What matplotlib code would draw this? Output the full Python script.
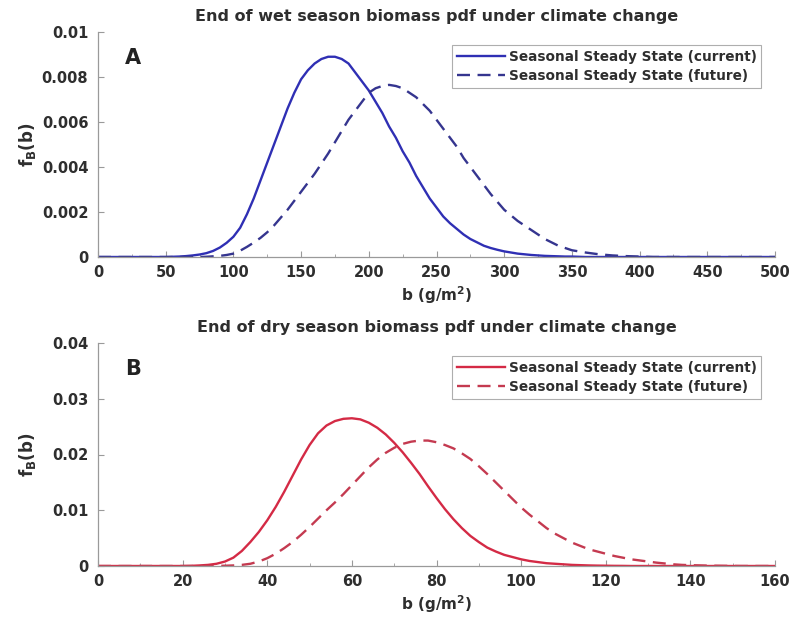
import matplotlib
matplotlib.use("Agg")
import matplotlib.pyplot as plt
from matplotlib.ticker import MultipleLocator

plt.rcParams['font.family'] = ['DejaVu Sans']
plt.rcParams['font.weight'] = 'bold'
plt.rcParams['mathtext.default'] = 'bf'

# ---- Panel A: end of wet season biomass pdf, b in g/m^2 ----
wet_b = [0, 10, 20, 30, 40, 50] + list(range(55, 355, 5)) + list(range(360, 510, 10))
wet_current = [
    0, 0, 0, 0, 0, 0,
    0.00001, 0.00002, 0.00004, 0.00007, 0.00011, 0.00017, 0.00027, 0.00042, 0.00063, 0.0009,
    0.0013, 0.0019, 0.0026, 0.0034, 0.0042, 0.0050, 0.0058, 0.0066, 0.0073, 0.0079,
    0.0083, 0.0086, 0.0088, 0.0089, 0.0089, 0.0088, 0.0086, 0.0082, 0.0078, 0.0074,
    0.0069, 0.0064, 0.0058, 0.0053, 0.0047, 0.0042, 0.0036, 0.0031, 0.0026, 0.0022,
    0.0018, 0.0015, 0.00125, 0.0010, 0.0008, 0.00065, 0.0005, 0.0004, 0.00032, 0.00025,
    0.0002, 0.00015, 0.00012, 0.00009, 0.00007, 0.00005, 0.00004, 0.00003, 0.00002, 0.00002,
    0, 0, 0, 0, 0, 0, 0, 0, 0, 0, 0, 0, 0, 0, 0,
]
wet_future = [
    0, 0, 0, 0, 0, 0,
    0, 0, 0, 0, 0, 0.00001, 0.00003, 0.00005, 0.00009, 0.00015,
    0.00028, 0.00045, 0.00064, 0.00085, 0.0011, 0.0014, 0.00175, 0.0021, 0.0025, 0.0029,
    0.0033, 0.0037, 0.00415, 0.0046, 0.0051, 0.0056, 0.0061, 0.0065, 0.0069, 0.0073,
    0.0075, 0.0076, 0.00765, 0.0076, 0.0075, 0.0073, 0.0071, 0.0068, 0.0065, 0.0061,
    0.0057, 0.0053, 0.0049, 0.0044, 0.0040, 0.0036, 0.0032, 0.0028, 0.00245, 0.0021,
    0.00185, 0.0016, 0.0014, 0.0012, 0.0010, 0.0008, 0.00065, 0.0005, 0.0004, 0.0003,
    0.0002, 0.00012, 0.00007, 0.00004, 0.00002, 0, 0, 0, 0, 0, 0, 0, 0, 0, 0,
]

# ---- Panel B: end of dry season biomass pdf, b in g/m^2 ----
dry_b = [0, 4, 8, 12, 16, 20] + list(range(22, 142, 2)) + [144, 148, 152, 156, 160]
dry_current = [
    0, 0, 0, 0, 0, 0,
    0.00003, 0.0001, 0.0002, 0.0004, 0.0008, 0.0015, 0.0027, 0.0043, 0.0061, 0.0082,
    0.0106, 0.0133, 0.0162, 0.0191, 0.0217, 0.0238, 0.0252, 0.0260, 0.0264, 0.0265,
    0.0263, 0.0257, 0.0248, 0.0236, 0.0221, 0.0204, 0.0185, 0.0165, 0.0143, 0.0122,
    0.0102, 0.0084, 0.0068, 0.0054, 0.0043, 0.0033, 0.0026, 0.0020, 0.0016, 0.0012,
    0.0009, 0.0007, 0.0005, 0.0004, 0.0003, 0.0002, 0.00015, 0.0001, 0.00007, 0.00005,
    0.00003, 0.00002, 0, 0, 0, 0, 0, 0, 0, 0,
    0, 0, 0, 0, 0,
]
dry_future = [
    0, 0, 0, 0, 0, 0,
    0, 0, 0, 0.00002, 0.00005, 0.0001, 0.0002, 0.0004, 0.0008, 0.0014,
    0.0022, 0.0032, 0.0043, 0.0056, 0.0070, 0.0085, 0.0100, 0.0114, 0.0129, 0.0145,
    0.0161, 0.0177, 0.0191, 0.0203, 0.0212, 0.0219, 0.0223, 0.0225, 0.0225, 0.0222,
    0.0217, 0.0211, 0.0202, 0.0192, 0.0179, 0.0165, 0.0150, 0.0135, 0.0120, 0.0105,
    0.0092, 0.0080, 0.0068, 0.0058, 0.0050, 0.0042, 0.0036, 0.0030, 0.0026, 0.0022,
    0.0018, 0.0015, 0.0012, 0.0010, 0.0008, 0.0006, 0.00045, 0.0003, 0.0002, 0.00015,
    0.00007, 0.00003, 0, 0, 0,
]

labels = ["Seasonal Steady State (current)", "Seasonal Steady State (future)"]
titles = ["End of wet season biomass pdf under climate change",
          "End of dry season biomass pdf under climate change"]
text_col = "#2e2e2e"
spine_col = "#9a9a9a"
blue = "#2f2fb4"
blue_dash = "#35358f"
red = "#d42a45"
red_dash = "#c43a50"

W, H = 791, 624
fig = plt.figure(figsize=(W / 100, H / 100), dpi=100)
fig.patch.set_facecolor("white")


def panel(rect, b, cur, fut, color, dcolor, xmax, xmaj, xmin, ymax, ymaj, yfmt,
          title, letter):
    l, t, r, bt = rect
    ax = fig.add_axes([l / W, 1 - bt / H, (r - l) / W, (bt - t) / H])
    ax.plot(b, cur, color=color, lw=1.7, label=labels[0],
            solid_joinstyle="round")
    ax.plot(b, fut, color=dcolor, lw=1.7, ls=(0, (5.5, 3.2)), label=labels[1],
            dash_capstyle="butt")
    ax.set_xlim(0, xmax)
    ax.xaxis.set_major_locator(MultipleLocator(xmaj))
    ax.xaxis.set_minor_locator(MultipleLocator(xmin))
    ax.yaxis.set_major_locator(MultipleLocator(ymaj))
    ax.set_ylim(0, ymax)
    ax.set_yticks(ax.get_yticks())
    ax.set_yticklabels([yfmt(v) for v in ax.get_yticks()])
    ax.set_ylim(0, ymax)
    for s in ("top", "right"):
        ax.spines[s].set_visible(False)
    for s in ("left", "bottom"):
        ax.spines[s].set_color(spine_col)
        ax.spines[s].set_linewidth(0.9)
    ax.tick_params(which="both", direction="in", colors=spine_col,
                   labelcolor=text_col, labelsize=10.5)
    ax.tick_params(axis="x", which="major", length=4, pad=6)
    ax.tick_params(axis="y", which="major", length=4, pad=7)
    ax.tick_params(which="minor", length=2.5)
    for lab in ax.get_xticklabels() + ax.get_yticklabels():
        lab.set_fontweight("bold")
    ax.set_title(title, fontsize=11.5, fontweight="bold", color=text_col,
                 pad=8)
    ax.set_xlabel("b (g/m$^2$)", fontsize=11, fontweight="bold",
                  color=text_col, labelpad=3)
    ax.set_ylabel("f$_B$(b)", fontsize=12, fontweight="bold",
                  color=text_col)
    ax.yaxis.set_label_coords((38 - l) / (r - l), 0.5)
    ax.text(0.04, 0.885, letter, transform=ax.transAxes, fontsize=15,
            fontweight="bold", color="#222222", ha="left", va="center")
    leg = ax.legend(loc="upper right", bbox_to_anchor=(0.98, 0.94),
                    frameon=True, fancybox=False, fontsize=9.8,
                    handlelength=3.5, handletextpad=0.3, borderpad=0.35,
                    labelspacing=0.35, borderaxespad=0)
    leg.get_frame().set_edgecolor(spine_col)
    leg.get_frame().set_linewidth(0.8)
    for txt in leg.get_texts():
        txt.set_fontweight("bold")
        txt.set_color(text_col)
    return ax


def fmt_a(v):
    return "0" if abs(v) < 1e-12 else ("%.3f" % v).rstrip("0")


def fmt_b(v):
    return "0" if abs(v) < 1e-12 else ("%.2f" % v)


panel((98, 32, 775, 257), wet_b, wet_current, wet_future, blue, blue_dash,
      500, 50, 25, 0.01, 0.002, fmt_a, titles[0], "A")
panel((98, 343, 775, 566), dry_b, dry_current, dry_future, red, red_dash,
      160, 20, 10, 0.04, 0.01, fmt_b, titles[1], "B")

fig.savefig("out.png", dpi=100, facecolor="white")
